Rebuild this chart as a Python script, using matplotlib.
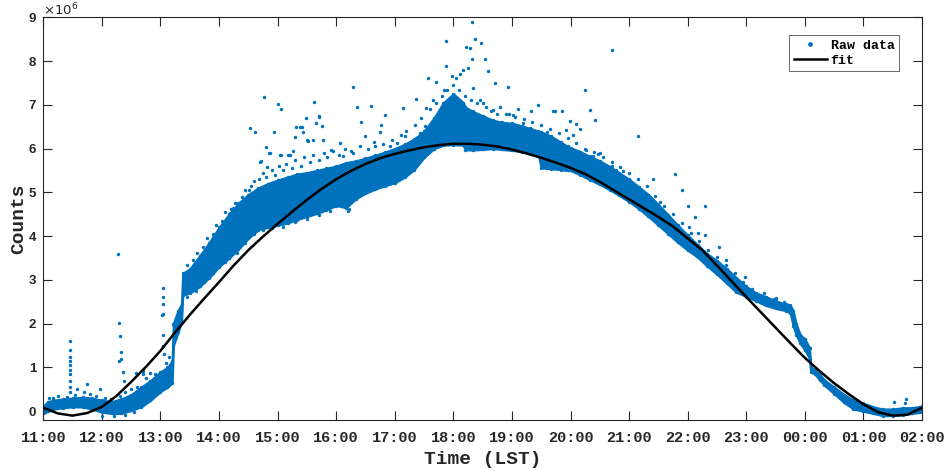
import matplotlib
matplotlib.use("Agg")
import matplotlib.pyplot as plt
from matplotlib.lines import Line2D

# ---- data (time in hours after midnight of the first day, counts in units of 1e6) ----
hour_ticks = [11, 12, 13, 14, 15, 16, 17, 18, 19, 20, 21, 22, 23, 24, 25, 26]
hour_labels = ["11:00", "12:00", "13:00", "14:00", "15:00", "16:00", "17:00", "18:00",
               "19:00", "20:00", "21:00", "22:00", "23:00", "00:00", "01:00", "02:00"]
count_ticks = [0, 1, 2, 3, 4, 5, 6, 7, 8, 9]

# dense body of the raw measurements: lower / upper edge of the cloud
band_time = [11.00, 11.08, 11.17, 11.33, 11.50, 11.67, 11.83, 12.00, 12.17, 12.33, 12.50,
             12.67, 12.83, 13.00, 13.12, 13.20, 13.22, 13.30, 13.36, 13.38, 13.50, 13.67,
             13.83, 14.00, 14.17, 14.33, 14.50, 14.67, 14.83, 15.00, 15.17, 15.33, 15.50,
             15.67, 15.83, 16.00, 16.17, 16.33, 16.50, 16.67, 16.83, 17.00, 17.17, 17.33,
             17.50, 17.67, 17.83, 18.00, 18.17, 18.20, 18.33, 18.50, 18.67, 18.83, 19.00,
             19.17, 19.33, 19.45, 19.50, 19.67, 19.83, 19.95, 20.00, 20.17, 20.33, 20.50,
             20.67, 20.83, 21.00, 21.17, 21.33, 21.50, 21.67, 21.83, 22.00, 22.17, 22.33,
             22.50, 22.67, 22.83, 23.00, 23.17, 23.33, 23.50, 23.67, 23.75, 23.80, 23.85,
             23.92, 24.00, 24.08, 24.10, 24.17, 24.25, 24.33, 24.50, 24.67, 24.83, 25.00,
             25.17, 25.33, 25.50, 25.67, 25.83, 26.00]
band_low = [-0.05, 0.00, 0.05, 0.08, 0.10, 0.10, 0.05, -0.02, -0.05, -0.05, 0.02,
            0.10, 0.25, 0.45, 0.55, 0.65, 1.50, 1.80, 2.05, 2.65, 2.70, 2.85,
            3.05, 3.30, 3.50, 3.70, 3.95, 4.15, 4.20, 4.25, 4.30, 4.38, 4.45,
            4.52, 4.60, 4.70, 4.65, 4.85, 4.98, 5.08, 5.15, 5.22, 5.35, 5.52,
            5.80, 6.00, 6.08, 6.09, 6.08, 5.97, 5.97, 5.98, 6.00, 5.98, 5.96,
            5.93, 5.88, 5.86, 5.56, 5.54, 5.52, 5.50, 5.50, 5.40, 5.29, 5.18,
            5.06, 4.93, 4.79, 4.62, 4.45, 4.25, 4.05, 3.86, 3.68, 3.52, 3.32,
            3.13, 2.92, 2.72, 2.62, 2.52, 2.42, 2.35, 2.30, 2.25, 1.95, 1.75,
            1.55, 1.40, 1.20, 0.90, 0.85, 0.72, 0.60, 0.40, 0.20, 0.05, 0.00,
            -0.05, -0.10, -0.10, -0.08, -0.05, -0.02]
band_high = [0.12, 0.22, 0.25, 0.28, 0.30, 0.32, 0.30, 0.25, 0.22, 0.28, 0.38,
             0.55, 0.70, 0.90, 1.00, 1.15, 2.00, 2.30, 2.45, 3.15, 3.25, 3.55,
             3.85, 4.20, 4.50, 4.75, 4.95, 5.10, 5.20, 5.28, 5.35, 5.42, 5.45,
             5.50, 5.55, 5.60, 5.68, 5.72, 5.78, 5.85, 5.92, 6.00, 6.10, 6.22,
             6.40, 6.70, 7.05, 7.25, 7.05, 6.95, 6.85, 6.75, 6.65, 6.60, 6.58,
             6.52, 6.45, 6.40, 6.38, 6.28, 6.15, 6.05, 6.02, 5.93, 5.82, 5.72,
             5.59, 5.45, 5.30, 5.12, 4.95, 4.72, 4.48, 4.25, 4.02, 3.80, 3.60,
             3.44, 3.25, 3.05, 2.85, 2.70, 2.62, 2.52, 2.45, 2.42, 2.30, 2.00,
             1.75, 1.65, 1.45, 1.00, 0.95, 0.85, 0.72, 0.55, 0.38, 0.25, 0.18,
             0.10, 0.05, 0.05, 0.08, 0.08, 0.12]

# loose samples along the rim of the dense body
rim_time = [11.10, 11.25, 11.40, 11.55, 11.70, 11.80, 11.90, 12.05, 12.15, 12.40, 12.50,
            12.60, 12.75, 12.90, 13.10, 13.15, 12.00, 12.20, 12.40, 12.55,
            13.45, 13.55, 13.62, 13.72, 13.80, 13.90, 13.95, 14.05, 14.10, 14.20, 14.28,
            14.40, 14.45, 14.55, 14.60, 14.68, 14.75, 14.80, 14.90, 14.95, 15.02, 15.10,
            15.15, 15.25, 15.30, 15.40, 15.45, 15.55, 15.60, 15.70, 15.80, 15.85, 15.95,
            16.05, 16.15, 16.25, 16.40, 16.55, 16.65, 16.80, 16.95, 17.10, 17.20, 17.35,
            17.45, 17.60, 17.70, 17.80, 17.90, 18.00, 18.10, 18.20, 18.30, 18.40, 18.55,
            18.65, 18.75, 18.90, 19.05, 19.20, 19.35, 19.50, 19.65, 19.80, 19.95, 20.10,
            20.25, 20.40, 20.55, 20.70, 20.85, 21.00, 21.15, 21.30, 21.45, 21.60, 21.75,
            21.90, 22.05, 22.20, 22.35, 22.50, 22.65, 22.80, 22.95, 23.10, 23.30, 23.50,
            23.65,
            13.45, 13.60, 13.75, 13.90, 14.10, 14.30, 14.45, 14.60, 14.75, 14.90, 15.10,
            15.30, 15.50, 15.70, 15.90, 16.20, 16.22]
rim_value = [0.30, 0.35, 0.32, 0.38, 0.45, 0.40, 0.35, 0.30, 0.28, 0.45, 0.50,
             0.55, 0.75, 0.85, 1.10, 1.25, -0.10, -0.12, -0.08, -0.02,
             3.35, 3.45, 3.62, 3.75, 3.95, 4.05, 4.25, 4.35, 4.55, 4.62, 4.75,
             4.90, 5.05, 5.15, 5.25, 5.30, 5.45, 5.35, 5.50, 5.40, 5.60, 5.50,
             5.65, 5.55, 5.75, 5.60, 5.80, 5.70, 5.85, 5.75, 5.90, 5.80, 5.95,
             5.85, 6.00, 5.95, 6.05, 6.00, 6.15, 6.10, 6.20, 6.30, 6.40, 6.55,
             6.70, 6.90, 7.05, 7.20, 7.35, 7.45, 7.35, 7.20, 7.10, 7.05, 6.95,
             6.85, 6.80, 6.80, 6.72, 6.68, 6.60, 6.55, 6.45, 6.35, 6.25, 6.12,
             6.00, 5.92, 5.80, 5.70, 5.58, 5.45, 5.30, 5.15, 4.92, 4.70, 4.50,
             4.30, 4.08, 3.88, 3.68, 3.52, 3.35, 3.15, 2.95, 2.80, 2.70, 2.58,
             2.50,
             2.60, 2.75, 2.95, 3.15, 3.40, 3.62, 3.85, 4.05, 4.15, 4.18, 4.22,
             4.32, 4.40, 4.48, 4.58, 4.58, 4.62]

# isolated raw samples away from the dense body
spike_time = [11.46, 11.46, 11.46, 11.46, 11.46, 11.46, 11.46, 11.46, 11.46, 11.46,
              11.17, 11.58, 11.75, 11.97,
              12.28, 12.29, 12.31, 12.33, 12.32, 12.30, 12.36, 12.38, 12.31, 12.59, 12.71,
              12.70, 12.82,
              13.04, 13.05, 13.04, 13.03, 13.05, 13.04, 13.05, 13.06,
              14.19, 14.24, 14.36, 14.52, 14.53, 14.62, 14.70, 14.72, 14.77, 14.81, 14.82,
              14.85, 14.87, 14.93, 15.00, 15.04, 15.05, 15.06, 15.17, 15.21, 15.27, 15.30,
              15.32, 15.38, 15.41, 15.44, 15.49, 15.50, 15.52, 15.61, 15.62, 15.65, 15.70,
              15.71, 15.75, 15.78, 15.92, 16.06, 16.12, 16.28, 16.29, 16.36, 16.43, 16.49,
              16.59, 16.66, 16.75, 16.77, 16.84, 16.92, 17.03, 17.14, 17.17, 17.26, 17.37,
              17.43, 17.51, 17.54, 17.57, 17.66, 17.71, 17.84, 17.87, 17.87, 17.97, 18.05,
              18.11, 18.17, 18.21, 18.25, 18.29, 18.31, 18.32, 18.34, 18.37, 18.45, 18.47,
              18.50, 18.54, 18.59, 18.68, 18.71, 18.79, 18.93, 18.95, 19.02, 19.11, 19.19,
              19.31, 19.32, 19.45, 19.59, 19.70, 19.74, 19.86, 19.93, 19.99, 20.04, 20.09,
              20.17, 20.24, 20.27, 20.33, 20.39, 20.41, 20.47, 20.50, 20.60, 20.70, 20.70,
              20.77, 20.90, 21.06, 21.15, 21.40, 21.52, 21.78, 21.91, 22.01, 22.03, 22.12,
              22.17, 22.29, 22.29, 22.54, 22.66, 22.98, 23.47, 23.72,
              24.60, 25.52, 25.72, 25.71]
spike_value = [1.60, 1.40, 1.25, 1.15, 1.05, 0.95, 0.85, 0.70, 0.55, 0.45,
               0.31, 0.50, 0.62, 0.50,
               3.59, 2.02, 1.71, 1.35, 1.20, 1.15, 0.90, 0.70, 0.34, 0.88, 0.91,
               0.86, 0.88,
               2.82, 2.60, 2.45, 2.20, 2.22, 1.75, 1.50, 1.30,
               4.53, 4.64, 4.76, 5.06, 6.48, 6.38, 5.70, 5.71, 7.17, 6.04, 5.58,
               5.91, 5.90, 6.37, 7.03, 5.86, 5.86, 6.90, 5.86, 5.86, 5.94, 6.26,
               6.50, 6.50, 6.50, 6.39, 6.70, 6.20, 6.17, 6.20, 7.06, 6.58, 6.74,
               6.72, 6.51, 6.20, 5.97, 6.13, 5.82, 7.41, 5.90, 6.95, 6.61, 6.28,
               6.98, 6.05, 6.39, 6.55, 6.77, 6.05, 6.13, 6.93, 6.28, 6.13, 7.13,
               6.36, 6.51, 6.93, 7.62, 7.12, 7.53, 7.34, 8.45, 7.88, 7.65, 7.61,
               7.71, 7.80, 8.33, 7.84, 8.30, 8.05, 8.89, 7.38, 8.51, 7.12, 8.42,
               7.04, 8.05, 7.77, 6.89, 7.50, 6.96, 7.41, 6.79, 6.77, 6.90, 6.58,
               6.47, 6.85, 7.00, 6.39, 6.85, 6.85, 6.87, 6.43, 6.62, 6.32, 6.56,
               6.45, 7.34, 5.97, 6.89, 5.82, 6.66, 5.88, 5.90, 5.59, 8.26, 5.60,
               5.50, 5.48, 5.18, 6.29, 5.31, 4.79, 5.43, 5.05, 4.70, 4.22, 4.43,
               4.07, 4.68, 4.02, 3.75, 3.45, 3.06, 2.56, 2.43,
               0.31, 0.21, 0.28, 0.19]

# fitted curve
fit_time = [11.00, 11.25, 11.50, 11.75, 12.00, 12.25, 12.50, 12.75, 13.00, 13.25, 13.50,
            13.75, 14.00, 14.25, 14.50, 14.75, 15.00, 15.25, 15.50, 15.75, 16.00, 16.25,
            16.50, 16.75, 17.00, 17.25, 17.50, 17.75, 18.00, 18.25, 18.50, 18.75, 19.00,
            19.25, 19.50, 19.75, 20.00, 20.25, 20.50, 20.75, 21.00, 21.25, 21.50, 21.75,
            22.00, 22.25, 22.50, 22.75, 23.00, 23.25, 23.50, 23.75, 24.00, 24.25, 24.50,
            24.75, 25.00, 25.25, 25.50, 25.75, 26.00]
fit_value = [0.08, -0.05, -0.10, -0.04, 0.10, 0.35, 0.67, 1.01, 1.38, 1.80, 2.20,
             2.58, 2.95, 3.33, 3.68, 3.99, 4.28, 4.56, 4.83, 5.08, 5.30, 5.49,
             5.65, 5.78, 5.88, 5.96, 6.03, 6.08, 6.11, 6.11, 6.09, 6.05, 5.98,
             5.89, 5.79, 5.68, 5.56, 5.42, 5.24, 5.04, 4.84, 4.64, 4.44, 4.22,
             3.95, 3.68, 3.33, 2.97, 2.61, 2.26, 1.91, 1.56, 1.22, 0.92, 0.64,
             0.39, 0.16, -0.02, -0.10, -0.08, 0.08]

# ---- drawing ----
blue = "#0072BD"
axis_grey = "#262626"
mono = "Liberation Mono"
sans = "Liberation Sans"

fig = plt.figure(figsize=(9.53, 4.71), dpi=100)
ax = fig.add_axes([0.0454, 0.1083, 0.9221, 0.8550])

ax.fill_between(band_time, band_low, band_high, facecolor=blue, edgecolor=blue,
                linewidth=1.6, zorder=2)
ax.scatter(band_time, band_low, s=6, color=blue, linewidths=0, zorder=2)
ax.scatter(band_time, band_high, s=6, color=blue, linewidths=0, zorder=2)
ax.scatter(rim_time, rim_value, s=6, color=blue, linewidths=0, zorder=2)
ax.scatter(spike_time, spike_value, s=6, color=blue, linewidths=0, zorder=2)
ax.plot(fit_time, fit_value, color="black", linewidth=1.8, zorder=3)

ax.set_xlim(11, 26)
ax.set_ylim(-0.2, 9)
ax.set_xticks(hour_ticks)
ax.set_xticklabels(hour_labels, fontfamily=mono, fontweight="bold", fontsize=11)
ax.set_yticks(count_ticks)
ax.set_yticklabels([str(v) for v in count_ticks], fontfamily=sans, fontweight="bold",
                   fontsize=9.5)
ax.tick_params(direction="in", length=6.3, width=0.8, top=True, right=True,
               colors=axis_grey)
ax.tick_params(axis="x", pad=8)
ax.tick_params(axis="y", pad=5)
for sp in ax.spines.values():
    sp.set_color(axis_grey)
    sp.set_linewidth(0.8)

ax.text(0.0, 1.004, r"$\times10^{6}$", transform=ax.transAxes, ha="left",
        va="baseline", fontsize=9.5, color=axis_grey, family=sans)
ax.set_xlabel("Time (LST)", fontfamily=mono, fontweight="bold", fontsize=14,
              color=axis_grey, labelpad=4)
ax.set_ylabel("Counts", fontfamily=mono, fontweight="bold", fontsize=14,
              color=axis_grey, labelpad=1)

handles = [Line2D([], [], linestyle="none", marker="o", markersize=2.4, color=blue),
           Line2D([], [], color="black", linewidth=1.8)]
leg = ax.legend(handles, ["Raw data", "fit"], loc="upper right",
                bbox_to_anchor=(0.974, 0.956), borderaxespad=0, frameon=True,
                fancybox=False, handlelength=2.5, handletextpad=0.3,
                borderpad=0.35, labelspacing=0.2,
                prop={"family": mono, "weight": "bold", "size": 9.5})
leg.get_frame().set_edgecolor(axis_grey)
leg.get_frame().set_linewidth(0.6)

fig.savefig("out.png", dpi=100)
